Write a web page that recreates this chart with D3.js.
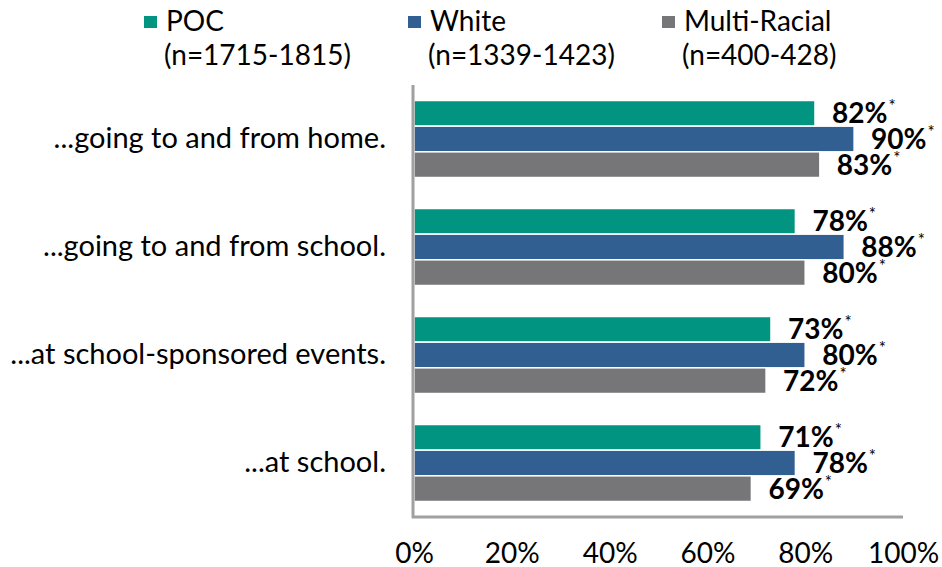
<!DOCTYPE html>
<html>
<head>
<meta charset="utf-8">
<script src="https://cdn.jsdelivr.net/npm/d3@7"></script>
<style>
  html, body { margin: 0; padding: 0; background: #ffffff; }
  svg { display: block; font-family: Lato, "Open Sans", sans-serif; }
</style>
</head>
<body>
<svg id="chart" width="942" height="567"></svg>
<script>
// Share of students who feel safe, by group
const categories = [
  "...going to and from home.",
  "...going to and from school.",
  "...at school-sponsored events.",
  "...at school."
];
const seriesNames = ["POC", "White", "Multi-Racial"];
const seriesNotes = ["(n=1715-1815)", "(n=1339-1423)", "(n=400-428)"];
const seriesColors = ["#009481", "#315f91", "#767678"];
const pocValues = [82, 78, 73, 71];
const whiteValues = [90, 88, 80, 78];
const multiValues = [83, 80, 72, 69];
const xTicks = [0, 20, 40, 60, 80, 100];

const series = [pocValues, whiteValues, multiValues];

const svg = d3.select("#chart");

const plotLeft = 414, plotRight = 903, plotTop = 85, plotBottom = 517;

const x = d3.scaleLinear().domain([0, 100]).range([plotLeft, plotRight]);
const y = d3.scaleBand().domain(categories).range([plotTop, plotBottom]).paddingInner(0.287).paddingOuter(0.1435);
const ySub = d3.scaleBand().domain(d3.range(series.length)).range([0, y.bandwidth()]);

// Bars and value labels
const groups = svg.append("g").selectAll("g")
  .data(categories)
  .join("g")
  .attr("transform", d => `translate(0,${y(d)})`);

groups.each(function(cat, ci) {
  const g = d3.select(this);
  series.forEach((vals, si) => {
    const v = vals[ci];
    g.append("rect")
      .attr("x", x(0))
      .attr("y", ySub(si))
      .attr("width", x(v) - x(0))
      .attr("height", ySub.bandwidth())
      .attr("fill", seriesColors[si])
      .attr("stroke", "#ffffff")
      .attr("stroke-width", 1.5);
    const t = g.append("text")
      .attr("x", x(v) + 17)
      .attr("y", ySub(si) + ySub.bandwidth() / 2 + 10)
      .attr("font-size", 28)
      .attr("font-weight", 700)
      .attr("fill", "#000");
    t.append("tspan").text(v + "%");
    t.append("tspan")
      .attr("font-size", 17)
      .attr("font-weight", 400)
      .attr("dx", 1)
      .attr("dy", -11)
      .text("*");
  });
});

// Category axis
const yAxis = d3.axisLeft(y).tickSize(0).tickPadding(27);
const yg = svg.append("g").attr("transform", `translate(${plotLeft - 1},0)`).call(yAxis);
yg.select(".domain").remove();
yg.selectAll("text")
  .attr("font-size", 29)
  .attr("font-family", "Lato, sans-serif")
  .attr("fill", "#000")
  .attr("dy", "0.3em");

// Axis lines
svg.append("line")
  .attr("x1", plotLeft - 1).attr("x2", plotLeft - 1)
  .attr("y1", plotTop).attr("y2", plotBottom + 1)
  .attr("stroke", "#a0a0a0").attr("stroke-width", 3);
svg.append("line")
  .attr("x1", plotLeft - 2).attr("x2", plotRight)
  .attr("y1", plotBottom).attr("y2", plotBottom)
  .attr("stroke", "#a0a0a0").attr("stroke-width", 3);

// Value axis ticks
const xAxis = d3.axisBottom(x).tickValues(xTicks).tickFormat(d => d + "%").tickSize(0);
const xg = svg.append("g").attr("transform", `translate(0,${plotBottom})`).call(xAxis);
xg.select(".domain").remove();
xg.selectAll("text")
  .attr("font-size", 28)
  .attr("font-family", "Lato, sans-serif")
  .attr("fill", "#000")
  .attr("y", 46)
  .attr("dy", 0);

// Legend
const legendX = [144, 408, 662];
const legend = svg.append("g").selectAll("g")
  .data(seriesNames)
  .join("g")
  .attr("transform", (d, i) => `translate(${legendX[i]},0)`);
legend.append("rect")
  .attr("x", 0).attr("y", 16)
  .attr("width", 13).attr("height", 12)
  .attr("fill", (d, i) => seriesColors[i]);
legend.append("text")
  .attr("x", 22).attr("y", 31)
  .attr("font-size", 28)
  .attr("fill", "#000")
  .text(d => d);
legend.append("text")
  .attr("x", 20).attr("y", 65)
  .attr("font-size", 28)
  .attr("fill", "#000")
  .text((d, i) => seriesNotes[i]);
</script>
</body>
</html>
